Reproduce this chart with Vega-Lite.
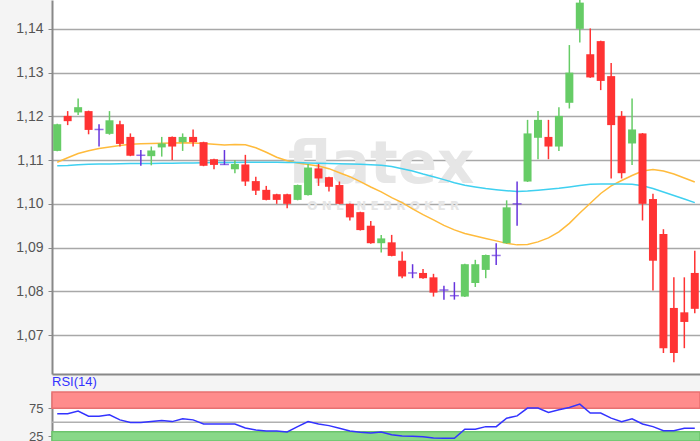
{
  "$schema": "https://vega.github.io/schema/vega-lite/v6.json",
  "background": "#f4f4f4",
  "padding": 0,
  "spacing": 2,
  "config": {
    "view": {"stroke": null, "fill": "white"},
    "font": "Liberation Sans",
    "axis": {"domainColor": "#888888", "domainWidth": 2, "tickColor": "#888888", "tickSize": 4, "labelColor": "#555555", "labelFont": "Liberation Sans", "title": null}
  },
  "datasets": {
    "candles": [
      {"i":1,"o":1.1121,"h":1.1183,"l":1.1120,"c":1.1182,"d":"up","m1":1.10950,"m2":1.10872,"r":65.0},
      {"i":2,"o":1.1201,"h":1.1212,"l":1.1180,"c":1.1189,"d":"down","m1":1.11053,"m2":1.10877,"r":65.0},
      {"i":3,"o":1.1209,"h":1.1241,"l":1.1203,"c":1.1221,"d":"up","m1":1.11151,"m2":1.10893,"r":69.8},
      {"i":4,"o":1.1212,"h":1.1213,"l":1.1159,"c":1.1169,"d":"down","m1":1.11212,"m2":1.10904,"r":60.9},
      {"i":5,"o":1.1170,"h":1.1182,"l":1.1131,"c":1.1170,"d":"doji","m1":1.11265,"m2":1.10909,"r":60.9},
      {"i":6,"o":1.1160,"h":1.1212,"l":1.1158,"c":1.1191,"d":"up","m1":1.11299,"m2":1.10911,"r":63.2},
      {"i":7,"o":1.1182,"h":1.1190,"l":1.1131,"c":1.1137,"d":"down","m1":1.11333,"m2":1.10916,"r":54.3},
      {"i":8,"o":1.1153,"h":1.1161,"l":1.1109,"c":1.1110,"d":"down","m1":1.11363,"m2":1.10920,"r":49.5},
      {"i":9,"o":1.1111,"h":1.1123,"l":1.1087,"c":1.1111,"d":"doji","m1":1.11372,"m2":1.10922,"r":49.5},
      {"i":10,"o":1.1109,"h":1.1131,"l":1.1088,"c":1.1122,"d":"up","m1":1.11379,"m2":1.10925,"r":51.2},
      {"i":11,"o":1.1129,"h":1.1153,"l":1.1108,"c":1.1138,"d":"up","m1":1.11384,"m2":1.10927,"r":53.0},
      {"i":12,"o":1.1153,"h":1.1154,"l":1.1100,"c":1.1131,"d":"down","m1":1.11390,"m2":1.10929,"r":51.2},
      {"i":13,"o":1.1141,"h":1.1161,"l":1.1121,"c":1.1153,"d":"up","m1":1.11397,"m2":1.10934,"r":56.1},
      {"i":14,"o":1.1153,"h":1.1170,"l":1.1131,"c":1.1141,"d":"down","m1":1.11390,"m2":1.10936,"r":54.3},
      {"i":15,"o":1.1141,"h":1.1142,"l":1.1086,"c":1.1087,"d":"down","m1":1.11377,"m2":1.10938,"r":47.1},
      {"i":16,"o":1.1102,"h":1.1103,"l":1.1079,"c":1.1089,"d":"down","m1":1.11361,"m2":1.10943,"r":47.1},
      {"i":17,"o":1.1090,"h":1.1123,"l":1.1089,"c":1.1090,"d":"doji","m1":1.11345,"m2":1.10945,"r":47.1},
      {"i":18,"o":1.1079,"h":1.1100,"l":1.1070,"c":1.1091,"d":"up","m1":1.11356,"m2":1.10947,"r":47.1},
      {"i":19,"o":1.1090,"h":1.1112,"l":1.1041,"c":1.1051,"d":"down","m1":1.11352,"m2":1.10950,"r":40.0},
      {"i":20,"o":1.1052,"h":1.1062,"l":1.1020,"c":1.1030,"d":"down","m1":1.11283,"m2":1.10950,"r":36.4},
      {"i":21,"o":1.1032,"h":1.1041,"l":1.1008,"c":1.1009,"d":"down","m1":1.11180,"m2":1.10950,"r":34.6},
      {"i":22,"o":1.1022,"h":1.1023,"l":1.1000,"c":1.1009,"d":"down","m1":1.11066,"m2":1.10950,"r":34.6},
      {"i":23,"o":1.1022,"h":1.1023,"l":1.0990,"c":1.1000,"d":"down","m1":1.10986,"m2":1.10947,"r":32.9},
      {"i":24,"o":1.1009,"h":1.1044,"l":1.1008,"c":1.1043,"d":"up","m1":1.10934,"m2":1.10943,"r":42.3},
      {"i":25,"o":1.1020,"h":1.1091,"l":1.1019,"c":1.1083,"d":"up","m1":1.10900,"m2":1.10936,"r":51.2},
      {"i":26,"o":1.1081,"h":1.1091,"l":1.1041,"c":1.1058,"d":"down","m1":1.10865,"m2":1.10929,"r":47.1},
      {"i":27,"o":1.1061,"h":1.1062,"l":1.1028,"c":1.1039,"d":"down","m1":1.10804,"m2":1.10922,"r":44.1},
      {"i":28,"o":1.1043,"h":1.1051,"l":1.0999,"c":1.1000,"d":"down","m1":1.10712,"m2":1.10916,"r":39.5},
      {"i":29,"o":1.1000,"h":1.1001,"l":1.0962,"c":1.0969,"d":"down","m1":1.10621,"m2":1.10911,"r":34.6},
      {"i":30,"o":1.0981,"h":1.0982,"l":1.0939,"c":1.0940,"d":"down","m1":1.10507,"m2":1.10904,"r":32.3},
      {"i":31,"o":1.0950,"h":1.0961,"l":1.0909,"c":1.0910,"d":"down","m1":1.10386,"m2":1.10895,"r":31.1},
      {"i":32,"o":1.0910,"h":1.0929,"l":1.0889,"c":1.0921,"d":"up","m1":1.10272,"m2":1.10881,"r":32.9},
      {"i":33,"o":1.0912,"h":1.0929,"l":1.0880,"c":1.0881,"d":"down","m1":1.10142,"m2":1.10854,"r":28.0},
      {"i":34,"o":1.0870,"h":1.0891,"l":1.0830,"c":1.0834,"d":"down","m1":1.10027,"m2":1.10801,"r":25.7},
      {"i":35,"o":1.0842,"h":1.0862,"l":1.0830,"c":1.0842,"d":"doji","m1":1.09884,"m2":1.10751,"r":25.2},
      {"i":36,"o":1.0842,"h":1.0851,"l":1.0829,"c":1.0830,"d":"down","m1":1.09753,"m2":1.10683,"r":24.5},
      {"i":37,"o":1.0832,"h":1.0840,"l":1.0788,"c":1.0797,"d":"down","m1":1.09632,"m2":1.10621,"r":22.1},
      {"i":38,"o":1.0803,"h":1.0813,"l":1.0781,"c":1.0803,"d":"doji","m1":1.09507,"m2":1.10553,"r":21.6},
      {"i":39,"o":1.0790,"h":1.0821,"l":1.0781,"c":1.0790,"d":"doji","m1":1.09404,"m2":1.10484,"r":21.6},
      {"i":40,"o":1.0788,"h":1.0863,"l":1.0787,"c":1.0862,"d":"up","m1":1.09324,"m2":1.10425,"r":37.7},
      {"i":41,"o":1.0819,"h":1.0872,"l":1.0810,"c":1.0862,"d":"up","m1":1.09267,"m2":1.10386,"r":37.7},
      {"i":42,"o":1.0849,"h":1.0884,"l":1.0830,"c":1.0883,"d":"up","m1":1.09210,"m2":1.10352,"r":42.3},
      {"i":43,"o":1.0882,"h":1.0910,"l":1.0860,"c":1.0882,"d":"doji","m1":1.09153,"m2":1.10324,"r":42.3},
      {"i":44,"o":1.0910,"h":1.1008,"l":1.0909,"c":1.0992,"d":"up","m1":1.09096,"m2":1.10301,"r":57.3},
      {"i":45,"o":1.1000,"h":1.1051,"l":1.0950,"c":1.1000,"d":"doji","m1":1.09062,"m2":1.10283,"r":61.4},
      {"i":46,"o":1.1051,"h":1.1192,"l":1.1050,"c":1.1161,"d":"up","m1":1.09073,"m2":1.10295,"r":75.2},
      {"i":47,"o":1.1151,"h":1.1212,"l":1.1102,"c":1.1192,"d":"up","m1":1.09130,"m2":1.10313,"r":75.2},
      {"i":48,"o":1.1153,"h":1.1192,"l":1.1102,"c":1.1131,"d":"down","m1":1.09221,"m2":1.10333,"r":67.3},
      {"i":49,"o":1.1131,"h":1.1221,"l":1.1121,"c":1.1201,"d":"up","m1":1.09358,"m2":1.10356,"r":72.1},
      {"i":50,"o":1.1231,"h":1.1363,"l":1.1218,"c":1.1300,"d":"up","m1":1.09553,"m2":1.10386,"r":76.3},
      {"i":51,"o":1.1400,"h":1.1466,"l":1.1369,"c":1.1460,"d":"up","m1":1.09792,"m2":1.10420,"r":82.3},
      {"i":52,"o":1.1342,"h":1.1401,"l":1.1288,"c":1.1289,"d":"down","m1":1.10014,"m2":1.10447,"r":66.3},
      {"i":53,"o":1.1372,"h":1.1373,"l":1.1260,"c":1.1281,"d":"down","m1":1.10237,"m2":1.10454,"r":66.3},
      {"i":54,"o":1.1292,"h":1.1322,"l":1.1058,"c":1.1180,"d":"down","m1":1.10409,"m2":1.10454,"r":57.3},
      {"i":55,"o":1.1201,"h":1.1212,"l":1.1058,"c":1.1070,"d":"down","m1":1.10534,"m2":1.10454,"r":51.2},
      {"i":56,"o":1.1138,"h":1.1241,"l":1.1089,"c":1.1170,"d":"up","m1":1.10648,"m2":1.10447,"r":56.1},
      {"i":57,"o":1.1161,"h":1.1162,"l":1.0962,"c":1.1000,"d":"down","m1":1.10751,"m2":1.10413,"r":47.1},
      {"i":58,"o":1.1011,"h":1.1023,"l":1.0802,"c":1.0870,"d":"down","m1":1.10785,"m2":1.10352,"r":42.3},
      {"i":59,"o":1.0931,"h":1.0942,"l":1.0659,"c":1.0670,"d":"down","m1":1.10751,"m2":1.10272,"r":35.2},
      {"i":60,"o":1.0762,"h":1.0832,"l":1.0638,"c":1.0659,"d":"down","m1":1.10683,"m2":1.10192,"r":35.2},
      {"i":61,"o":1.0752,"h":1.0832,"l":1.0670,"c":1.0730,"d":"down","m1":1.10591,"m2":1.10112,"r":39.5},
      {"i":62,"o":1.0842,"h":1.0893,"l":1.0750,"c":1.0760,"d":"down","m1":1.10500,"m2":1.10027,"r":39.5}
    ],
    "bands": [
      {"lo": 75, "hi": 103.75, "zone": "overbought"},
      {"lo": 16.8, "hi": 33.3, "zone": "oversold"}
    ],
    "mid": [{"v": 50}],
    "mark": [
      {"i": 32, "y": 1.1047, "t": "flatex", "k": "big"},
      {"i": 32, "y": 1.0986, "t": "O N L I N E     B R O K E R", "k": "small"}
    ]
  },
  "vconcat": [
    {
      "width": 648,
      "height": 374,
      "encoding": {
        "x": {"field": "i", "type": "ordinal", "scale": {"paddingInner": 0, "paddingOuter": 0},
              "axis": {"labels": false, "ticks": false, "minExtent": 0, "maxExtent": 0}}
      },
      "layer": [
        {
          "data": {"name": "mark"},
          "transform": [{"filter": "datum.k == 'big'"}],
          "mark": {"type": "text", "font": "DejaVu Sans", "fontWeight": "bold", "fontSize": 58, "color": "#e6e6e6", "align": "center", "baseline": "alphabetic"},
          "encoding": {"y": {"field": "y", "type": "quantitative", "scale": {"domain": [1.0611, 1.1466], "zero": false, "nice": false}}, "text": {"field": "t"}}
        },
        {
          "data": {"name": "mark"},
          "transform": [{"filter": "datum.k == 'small'"}],
          "mark": {"type": "text", "font": "DejaVu Sans", "fontWeight": "bold", "fontSize": 12, "color": "#e6e6e6", "align": "center", "baseline": "alphabetic", "dx": 2},
          "encoding": {"y": {"field": "y", "type": "quantitative"}, "text": {"field": "t"}}
        },
        {
          "data": {"name": "candles"},
          "mark": {"type": "line", "color": "#ffbb3c", "strokeWidth": 1.5, "clip": true},
          "encoding": {"y": {"field": "m1", "type": "quantitative"}}
        },
        {
          "data": {"name": "candles"},
          "mark": {"type": "line", "color": "#3fd0f0", "strokeWidth": 1.5, "clip": true},
          "encoding": {"y": {"field": "m2", "type": "quantitative"}}
        },
        {
          "data": {"name": "candles"},
          "mark": {"type": "rule", "strokeWidth": 1.5, "clip": true},
          "encoding": {
            "y": {"field": "l", "type": "quantitative",
                  "axis": {"values": [1.07, 1.08, 1.09, 1.10, 1.11, 1.12, 1.13, 1.14], "labelExpr": "replace(format(datum.value, '.2f'), '.', ',')",
                           "grid": true, "gridColor": "#a8a8a8", "gridWidth": 1.5, "labelFontSize": 14, "labelPadding": 5, "minExtent": 52, "maxExtent": 52}},
            "y2": {"field": "h"},
            "color": {"field": "d", "type": "nominal", "scale": {"domain": ["up", "down", "doji"], "range": ["#66cc66", "#ff3333", "#6633dd"]}, "legend": null}
          }
        },
        {
          "data": {"name": "candles"},
          "transform": [{"filter": "datum.d != 'doji'"}],
          "mark": {"type": "bar", "size": 8, "clip": true},
          "encoding": {
            "y": {"field": "o", "type": "quantitative"},
            "y2": {"field": "c"},
            "color": {"field": "d", "type": "nominal", "legend": null}
          }
        },
        {
          "data": {"name": "candles"},
          "transform": [{"filter": "datum.d == 'doji'"}],
          "mark": {"type": "tick", "size": 9, "thickness": 1.5, "clip": true},
          "encoding": {
            "y": {"field": "c", "type": "quantitative"},
            "color": {"field": "d", "type": "nominal", "legend": null}
          }
        }
      ]
    },
    {
      "width": 648,
      "height": 49,
      "title": {"text": "RSI(14)", "anchor": "start", "frame": "group", "fontSize": 13, "color": "#3333ff", "fontWeight": "normal", "font": "Liberation Sans", "offset": 2},
      "layer": [
        {
          "data": {"name": "bands"},
          "mark": {"type": "rect", "strokeWidth": 1.5},
          "encoding": {
            "y": {"field": "lo", "type": "quantitative", "scale": {"domain": [16.8, 103.75], "zero": false, "nice": false},
                  "axis": {"values": [25, 75], "grid": false, "labelFontSize": 13, "labelPadding": 5, "minExtent": 52, "maxExtent": 52}},
            "y2": {"field": "hi"},
            "fill": {"field": "zone", "type": "nominal", "scale": {"domain": ["overbought", "oversold"], "range": ["#ff8c8c", "#88d888"]}, "legend": null},
            "stroke": {"field": "zone", "type": "nominal", "scale": {"domain": ["overbought", "oversold"], "range": ["#e87070", "#6cc46c"]}, "legend": null}
          }
        },
        {
          "data": {"name": "mid"},
          "mark": {"type": "rule", "color": "#b0b0b0", "strokeWidth": 1.5},
          "encoding": {"y": {"field": "v", "type": "quantitative"}}
        },
        {
          "data": {"name": "candles"},
          "mark": {"type": "line", "color": "#3333ff", "strokeWidth": 1.5},
          "encoding": {
            "x": {"field": "i", "type": "ordinal", "scale": {"paddingInner": 0, "paddingOuter": 0}, "axis": null},
            "y": {"field": "r", "type": "quantitative"}
          }
        }
      ]
    }
  ]
}
